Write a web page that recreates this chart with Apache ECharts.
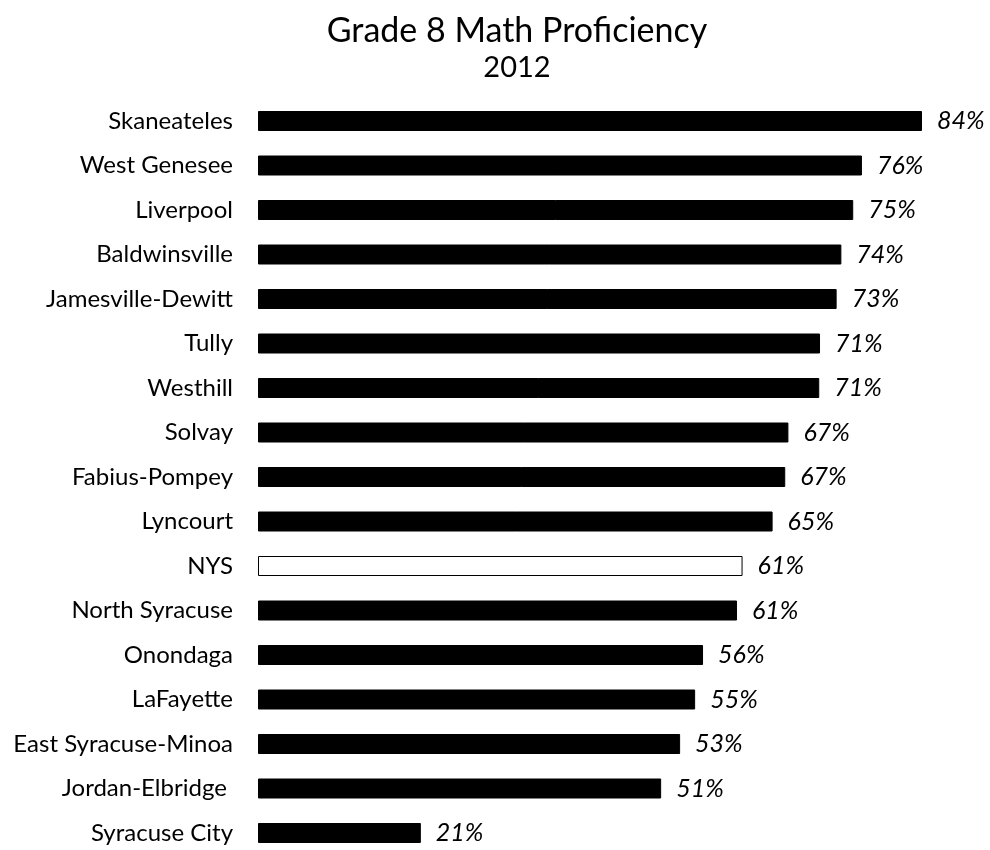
<!DOCTYPE html>
<html>
<head>
<meta charset="utf-8">
<script src="https://cdn.jsdelivr.net/npm/echarts@6/dist/echarts.min.js"></script>
<style>
  html, body { margin: 0; padding: 0; background: #fff; }
  #chart { width: 990px; height: 850px; }
</style>
</head>
<body>
<div id="chart"></div>
<script>
  // districts, top to bottom
  var districts = [
    'Skaneateles', 'West Genesee', 'Liverpool', 'Baldwinsville', 'Jamesville-Dewitt',
    'Tully', 'Westhill', 'Solvay', 'Fabius-Pompey', 'Lyncourt', 'NYS',
    'North Syracuse', 'Onondaga', 'LaFayette', 'East Syracuse-Minoa',
    'Jordan-Elbridge ', 'Syracuse City'
  ];
  // percent proficient
  var proficiency = [
    84, 76.4, 75.3, 73.8, 73.2,
    71.1, 71, 67.1, 66.7, 65.1, 61.3,
    60.6, 56.3, 55.3, 53.4,
    51, 20.6
  ];
  var stateName = 'NYS';

  var font = 'Lato, "Open Sans", sans-serif';

  var chart = echarts.init(document.getElementById('chart'));
  chart.setOption({
    backgroundColor: '#fff',
    animation: false,
    title: {
      text: 'Grade 8 Math Proficiency',
      subtext: '2012',
      left: 512,
      top: 9,
      textAlign: 'center',
      itemGap: 5,
      textStyle: { fontFamily: font, fontSize: 34, fontWeight: 'normal', color: '#000' },
      subtextStyle: { fontFamily: font, fontSize: 29, color: '#000' }
    },
    // first and last row centres sit on the grid edges
    grid: { left: 258, top: 121, right: 68, bottom: 17, containLabel: false },
    xAxis: {
      type: 'value',
      min: 0,
      max: 84,
      show: false
    },
    yAxis: {
      type: 'category',
      data: districts,
      inverse: true,
      boundaryGap: false,
      axisLine: { show: false },
      axisTick: { show: false },
      axisLabel: { margin: 25, fontFamily: font, fontSize: 24, color: '#000' }
    },
    series: [{
      type: 'bar',
      barWidth: 20,
      clip: false,
      data: proficiency.map(function (v, i) {
        var isState = districts[i] === stateName;
        return {
          value: v,
          itemStyle: {
            color: isState ? '#fff' : '#000',
            borderColor: '#000',
            borderWidth: 1
          }
        };
      }),
      label: {
        show: true,
        position: 'right',
        distance: 15,
        fontFamily: font,
        fontSize: 25,
        fontStyle: 'italic',
        color: '#000',
        formatter: function (p) { return Math.round(p.value) + '%'; }
      }
    }]
  });
</script>
</body>
</html>
